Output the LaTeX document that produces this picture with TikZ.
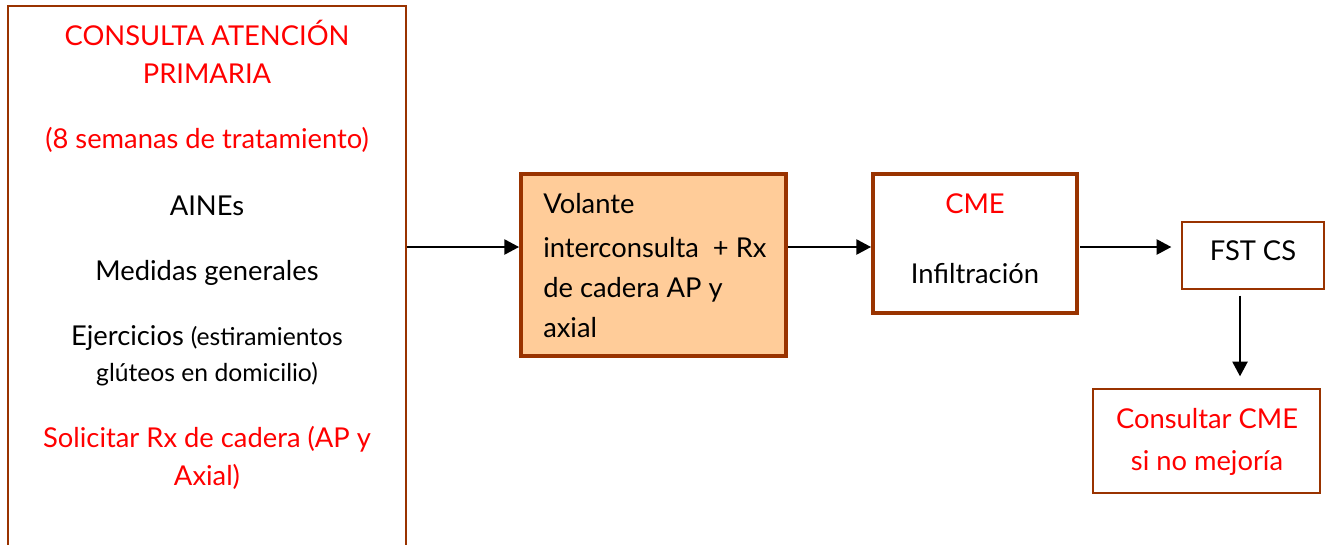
\documentclass[tikz,border=0pt]{standalone}
\usepackage{fontspec}
\setmainfont{Lato}
\usetikzlibrary{arrows.meta}
\definecolor{brd}{HTML}{993300}
\definecolor{peach}{HTML}{FFCC99}
\definecolor{txtred}{HTML}{FF0000}
\begin{document}
\begin{tikzpicture}[x=0.75pt,y=-0.75pt,
  thinbox/.style={draw=brd, line width=1.1pt, rectangle, inner sep=0pt},
  thickbox/.style={draw=brd, line width=3pt, rectangle, inner sep=0pt},
  lbl/.style={anchor=base, inner sep=0pt, font=\fontsize{20.5}{24}\selectfont},
  smalltxt/.style={font=\fontsize{18.5}{22}\selectfont},
  lblleft/.style={lbl, anchor=base west},
  redtxt/.style={text=txtred},
  arr/.style={-{Triangle[length=11pt,width=11.5pt]}, line width=1pt}
]
\useasboundingbox (0,0) rectangle (1333,544);

% boxes
\node[thinbox, minimum width=298.5pt, minimum height=430.5pt] (lbox) at (207,293) {};
\node[thickbox, fill=peach, minimum width=198.75pt, minimum height=136.5pt] (vbox) at (653.5,265) {};
\node[thickbox, minimum width=153pt, minimum height=104.25pt] (cme) at (975,243.5) {};
\node[thinbox, minimum width=106.5pt, minimum height=50.25pt] (fst) at (1253,255.5) {};
\node[thinbox, minimum width=170.25pt, minimum height=78pt] (cons) at (1206.5,441) {};

% primary care box text
\node[lbl, redtxt] (t1) at (207,45) {CONSULTA ATENCIÓN};
\node[lbl, redtxt] (t2) at (207,83) {PRIMARIA};
\node[lbl, redtxt] (t3) at (207,148) {(8 semanas de tratamiento)};
\node[lbl] (t4) at (207,215) {AINEs};
\node[lbl] (t5) at (207,280) {Medidas generales};
\node[lbl] (t6) at (207,345) {Ejercicios {\fontsize{18.5}{22}\selectfont(estiramientos}};
\node[lbl, smalltxt] (t7) at (207,381) {glúteos en domicilio)};
\node[lbl, redtxt] (t8) at (207,447) {Solicitar Rx de cadera (AP y};
\node[lbl, redtxt] (t9) at (207,485) {Axial)};

% referral box text
\node[lblleft] (v1) at (543,213) {Volante};
\node[lblleft] (v2) at (543,257) {interconsulta \ + Rx};
\node[lblleft] (v3) at (543,297) {de cadera AP y};
\node[lblleft] (v4) at (543,337) {axial};

% specialist box text
\node[lbl, redtxt] (c1) at (975,213) {CME};
\node[lbl] (c2) at (975,283) {Infiltración};

\node[lbl] (f1) at (1253,260) {FST CS};

\node[lbl, redtxt] (k1) at (1207,428) {Consultar CME};
\node[lbl, redtxt] (k2) at (1207,470) {si no mejoría};

% connectors
\coordinate (row) at (0,247);
\coordinate (col) at (1240,0);
\draw[arr] (lbox.east |- row) -- (vbox.west |- row);
\draw[arr] (vbox.east |- row) -- (cme.west |- row);
\draw[arr, shorten <=1pt, shorten >=7.5pt] (cme.east |- row) -- (fst.west |- row);
\draw[arr, shorten <=4.5pt, shorten >=9pt] (fst.south -| col) -- (cons.north -| col);
\end{tikzpicture}
\end{document}
